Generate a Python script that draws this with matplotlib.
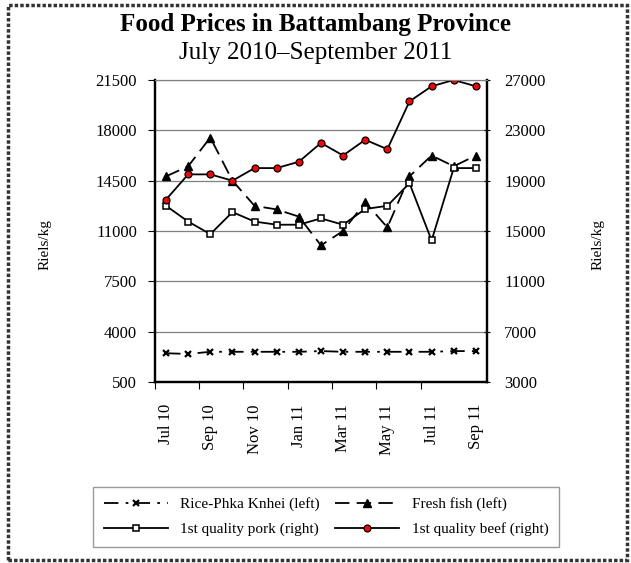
import matplotlib
matplotlib.use("Agg")
import matplotlib.pyplot as plt
from matplotlib.patches import Rectangle

plt.rcParams['font.family'] = ['Liberation Serif', 'DejaVu Serif']

# monthly data, Jul 2010 - Sep 2011
months = ["Jul 10", "Aug 10", "Sep 10", "Oct 10", "Nov 10", "Dec 10", "Jan 11", "Feb 11",
          "Mar 11", "Apr 11", "May 11", "Jun 11", "Jul 11", "Aug 11", "Sep 11"]
rice = [2500, 2450, 2600, 2600, 2600, 2600, 2600, 2650, 2600, 2600, 2600, 2600, 2600, 2650, 2650]
fish = [14800, 15500, 17500, 14500, 12750, 12500, 12000, 10000, 11000, 13000, 11250, 14800, 16250, 15500, 16250]
pork = [17000, 15750, 14750, 16500, 15750, 15500, 15500, 16000, 15500, 16750, 17000, 18800, 14250, 20000, 20000]
beef = [17500, 19500, 19500, 19000, 20000, 20000, 20500, 22000, 21000, 22250, 21500, 25300, 26500, 27000, 26500]

left_ticks = [500, 4000, 7500, 11000, 14500, 18000, 21500]
right_ticks = [3000, 7000, 11000, 15000, 19000, 23000, 27000]

x = list(range(len(months)))

fig = plt.figure(figsize=(6.31, 5.63), dpi=100)
ax = fig.add_axes([0.2456, 0.3215, 0.5261, 0.5364])
ax2 = ax.twinx()

# left axis series
l_rice, = ax.plot(x, rice, color='black', lw=1.3, dashes=[8, 4, 1.5, 4],
                  marker='x', ms=4, mew=1.6, label='Rice-Phka Knhei (left)')
l_fish, = ax.plot(x, fish, color='black', lw=1.3, dashes=[8, 4],
                  marker='^', ms=5.5, label='Fresh fish (left)')

# right axis series
l_pork, = ax2.plot(x, pork, color='black', lw=1.3, marker='s', ms=4.5,
                   mfc='white', mec='black', mew=1.1, label='1st quality pork (right)')
l_beef, = ax2.plot(x, beef, color='black', lw=1.3, marker='o', ms=5,
                   mfc='red', mec='black', mew=0.9, label='1st quality beef (right)')

ax.set_ylim(500, 21500)
ax.set_yticks(left_ticks)
ax2.set_ylim(3000, 27000)
ax2.set_yticks(right_ticks)
ax.grid(axis='y', color='#808080', lw=0.9)
ax.set_axisbelow(True)

ax.set_xlim(-0.5, len(months) - 0.5)
ax.set_xticks([i - 0.5 for i in range(0, len(months) - 1, 2)])
ax.set_xticklabels([])
ax.set_xticks(x[::2], minor=True)
ax.set_xticklabels(months[::2], minor=True, rotation=90, fontsize=12)
ax.tick_params(axis='x', which='minor', length=0, pad=16)
ax.tick_params(axis='x', which='major', length=5, color='black')
ax.tick_params(axis='y', labelsize=12, length=5, pad=8)
ax2.tick_params(axis='y', labelsize=12, length=5, direction='inout', pad=10)

for a in (ax, ax2):
    a.spines['left'].set_linewidth(1.6)
    a.spines['right'].set_linewidth(1.6)
    a.spines['bottom'].set_linewidth(1.6)
    a.spines['top'].set_color('#808080')

fig.text(0.5, 0.957, "Food Prices in Battambang Province", ha='center', va='center',
         fontsize=18, fontweight='bold')
fig.text(0.5, 0.905, "July 2010\u2013September 2011", ha='center', va='center', fontsize=18)
fig.text(45 / 631, 1 - 245 / 563, "Riels/kg", rotation=90, ha='center', va='center', fontsize=11)
fig.text(598 / 631, 1 - 245 / 563, "Riels/kg", rotation=90, ha='center', va='center', fontsize=11)

leg = fig.legend([l_rice, l_pork, l_fish, l_beef],
                 [l_rice.get_label(), l_pork.get_label(), l_fish.get_label(), l_beef.get_label()],
                 ncol=2, loc='center', bbox_to_anchor=(0.517, 0.082), fontsize=11,
                 handlelength=4.2, columnspacing=1.0, fancybox=False, edgecolor='#808080',
                 borderpad=0.7, labelspacing=0.7)
leg.get_frame().set_linewidth(1.0)

# dotted outer frame
fig.patches.append(Rectangle((8 / 631, 3 / 563), 619 / 631, 555 / 563, transform=fig.transFigure,
                             fill=False, ec='#333333', lw=2.5, ls=(0, (1, 0.6))))

fig.savefig('out.png', dpi=100)
